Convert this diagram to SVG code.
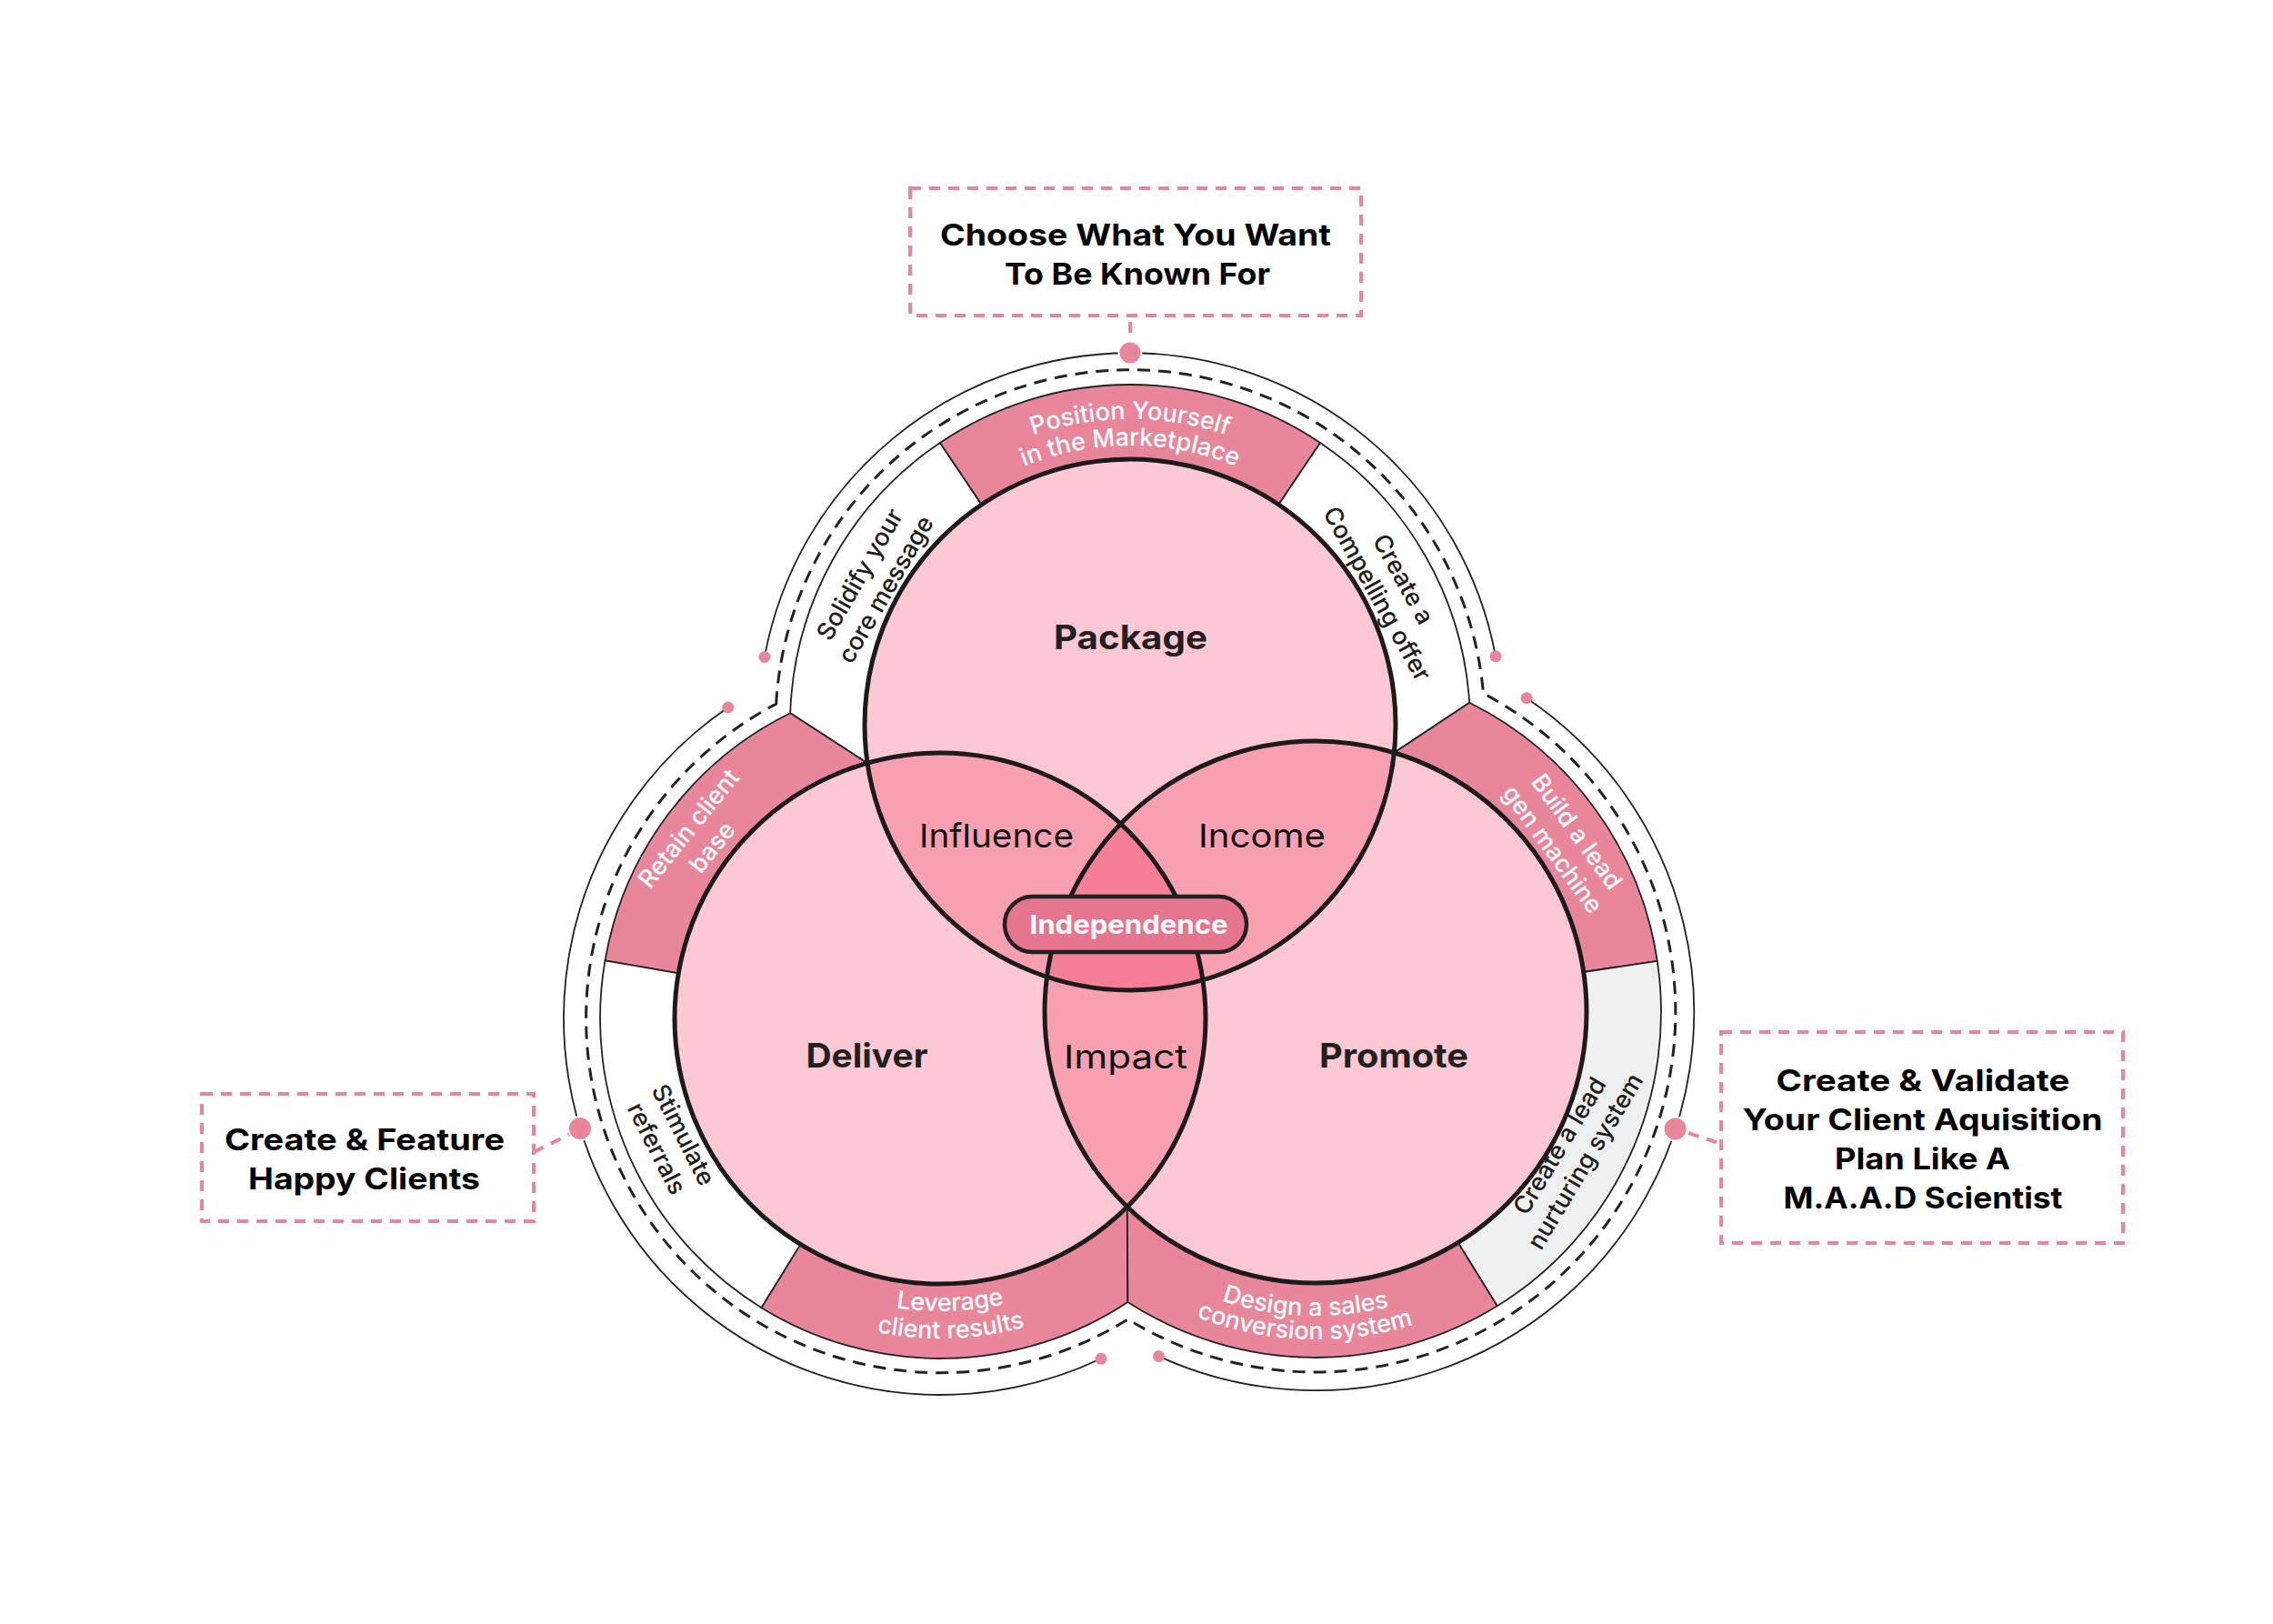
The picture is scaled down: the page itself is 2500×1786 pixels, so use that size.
<svg xmlns="http://www.w3.org/2000/svg" xmlns:xlink="http://www.w3.org/1999/xlink" width="2500" height="1786" viewBox="0 0 2500 1786">
<style>
.seg{stroke:#222;stroke-width:1.8;stroke-linejoin:round}
.pink{fill:#e8879b}
.white{fill:#fff}
.gray{fill:#eff1f0}
.circ{fill:none;stroke:#1c1a1b;stroke-width:5}
.light{fill:#fbc8d3}
.double{fill:#f7a0b1}
.triple{fill:#f57f96}
.dline{fill:none;stroke:#222;stroke-width:3;stroke-dasharray:14 9}
.outer{fill:none;stroke:#222;stroke-width:1.8}
.dot{fill:#e8879b}
.bigdot{fill:#e8879b;stroke:#fff;stroke-width:2}
.box{fill:#fff;stroke:#e8879b;stroke-width:4;stroke-dasharray:12 9}
.conn{fill:none;stroke:#e8879b;stroke-width:4;stroke-dasharray:12 9}
text{font-family:Inter,"Liberation Sans",sans-serif}
.bt{font-weight:700;font-size:33px;fill:#000;text-anchor:middle}
.lb{font-weight:700;font-size:37px;fill:#231f20;text-anchor:middle}
.lr{font-weight:400;font-size:36px;fill:#111;text-anchor:middle}
.ring{font-weight:500;font-size:27px;text-anchor:middle}
.rw{fill:#fff}
.rd{fill:#1d1d1d}
.pill{fill:#e6768f;stroke:#231f20;stroke-width:4.5}
.pt{font-weight:700;font-size:29px;fill:#fff;text-anchor:middle}
</style>
<defs>
<clipPath id="clipP"><circle cx="1243" cy="797" r="292"/></clipPath>
<clipPath id="clipD"><circle cx="1034" cy="1120" r="292"/></clipPath>
<clipPath id="clipR"><circle cx="1447" cy="1113" r="298"/></clipPath>
<path id="pPos1" d="M 952.0 629 A 336 336 0 0 1 1534.0 629"/>
<path id="pPos2" d="M 977.1 643.5 A 307 307 0 0 1 1508.9 643.5"/>
<path id="pLev1" d="M 760.9 1290.6 A 322 322 0 0 0 1318.3 1271.2"/>
<path id="pLev2" d="M 735.5 1306.5 A 352 352 0 0 0 1344.8 1285.3"/>
<path id="pDes1" d="M 1152.1 1269.8 A 334 334 0 0 0 1730.3 1290.0"/>
<path id="pDes2" d="M 1129.1 1282.0 A 360 360 0 0 0 1752.3 1303.8"/>
</defs>
<rect width="2500" height="1786" fill="#fff"/>

<g id="rings">
  <g id="seg-solidify">
    <path class="seg white" d="M 954.0 839.2 A 292 292 0 0 1 1079.7 554.9 L 1033.9 486.9 A 374 374 0 0 0 869.2 784.3 Z"/>
    <text class="ring rd" transform="translate(961.4 640.9) rotate(-60)"><tspan x="0" y="-9">Solidify your</tspan><tspan x="0" y="24">core message</tspan></text>
  </g>
  <g id="seg-position">
    <path class="seg pink" d="M 1079.7 554.9 A 292 292 0 0 1 1406.3 554.9 L 1452.1 486.9 A 374 374 0 0 0 1033.9 486.9 Z"/>
    <text class="ring rw"><textPath href="#pPos1" startOffset="50%">Position Yourself</textPath></text>
    <text class="ring rw"><textPath href="#pPos2" startOffset="50%">in the Marketplace</textPath></text>
  </g>
  <g id="seg-compelling">
    <path class="seg white" d="M 1406.3 554.9 A 292 292 0 0 1 1533.4 827.8 L 1616.2 772.75 A 374 374 0 0 0 1452.1 486.9 Z"/>
    <text class="ring rd" transform="translate(1527.5 645.8) rotate(61)"><tspan x="0" y="-9">Create a</tspan><tspan x="0" y="24">Compelling offer</tspan></text>
  </g>
  <g id="seg-retain">
    <path class="seg pink" d="M 954.0 839.2 A 292 292 0 0 0 746.3 1070.3 L 665.5 1056.3 A 374 374 0 0 1 869.2 784.3 Z"/>
    <text class="ring rw" transform="translate(771.7 922.5) rotate(-51)"><tspan x="0" y="-9">Retain client</tspan><tspan x="0" y="24">base</tspan></text>
  </g>
  <g id="seg-stimulate">
    <path class="seg white" d="M 746.3 1070.3 A 292 292 0 0 0 880.6 1368.4 L 837.5 1438.2 A 374 374 0 0 1 665.5 1056.3 Z"/>
    <text class="ring rd" transform="translate(735.4 1256.4) rotate(63)"><tspan x="0" y="-9">Stimulate</tspan><tspan x="0" y="24">referrals</tspan></text>
  </g>
  <g id="seg-leverage">
    <path class="seg pink" d="M 880.6 1368.4 A 292 292 0 0 0 1239.8 1327.2 L 1240.4 1431.9 A 374 374 0 0 1 837.5 1438.2 Z"/>
    <text class="ring rw"><textPath href="#pLev1" startOffset="50%">Leverage</textPath></text>
    <text class="ring rw"><textPath href="#pLev2" startOffset="50%">client results</textPath></text>
  </g>
  <g id="seg-build">
    <path class="seg pink" d="M 1533.4 827.8 A 298 298 0 0 1 1741.7 1069.0 L 1822.8 1056.8 A 380 380 0 0 0 1616.2 772.75 Z"/>
    <text class="ring rw" transform="translate(1719.6 925.4) rotate(54)"><tspan x="0" y="-9">Build a lead</tspan><tspan x="0" y="24">gen machine</tspan></text>
  </g>
  <g id="seg-nurture">
    <path class="seg gray" d="M 1741.7 1069.0 A 298 298 0 0 1 1603.6 1366.5 L 1646.7 1436.3 A 380 380 0 0 0 1822.8 1056.8 Z"/>
    <text class="ring rd" transform="translate(1731 1269.6) rotate(-59)"><tspan x="0" y="-9">Create a lead</tspan><tspan x="0" y="24">nurturing system</tspan></text>
  </g>
  <g id="seg-design">
    <path class="seg pink" d="M 1603.6 1366.5 A 298 298 0 0 1 1239.8 1327.2 L 1240.4 1431.9 A 380 380 0 0 0 1646.7 1436.3 Z"/>
    <text class="ring rw"><textPath href="#pDes1" startOffset="50%">Design a sales</textPath></text>
    <text class="ring rw"><textPath href="#pDes2" startOffset="50%">conversion system</textPath></text>
  </g>
</g>

<g id="venn-fills">
  <circle class="light" cx="1243" cy="797" r="292"/>
  <circle class="light" cx="1034" cy="1120" r="292"/>
  <circle class="light" cx="1447" cy="1113" r="298"/>
  <circle class="double" cx="1034" cy="1120" r="292" clip-path="url(#clipP)"/>
  <circle class="double" cx="1447" cy="1113" r="298" clip-path="url(#clipP)"/>
  <circle class="double" cx="1447" cy="1113" r="298" clip-path="url(#clipD)"/>
  <g clip-path="url(#clipP)"><circle class="triple" cx="1447" cy="1113" r="298" clip-path="url(#clipD)"/></g>
</g>

<g id="node-package">
  <circle class="circ" cx="1243" cy="797" r="292"/>
  <text class="lb" x="1243.5" y="714" textLength="169" lengthAdjust="spacingAndGlyphs">Package</text>
</g>
<g id="node-deliver">
  <circle class="circ" cx="1034" cy="1120" r="292"/>
  <text class="lb" x="953.5" y="1174" textLength="134" lengthAdjust="spacingAndGlyphs">Deliver</text>
</g>
<g id="node-promote">
  <circle class="circ" cx="1447" cy="1113" r="298"/>
  <text class="lb" x="1533" y="1174" textLength="164" lengthAdjust="spacingAndGlyphs">Promote</text>
</g>
<g id="node-influence">
  <text class="lr" x="1096" y="932" textLength="170" lengthAdjust="spacingAndGlyphs">Influence</text>
</g>
<g id="node-income">
  <text class="lr" x="1388" y="932" textLength="140" lengthAdjust="spacingAndGlyphs">Income</text>
</g>
<g id="node-impact">
  <text class="lr" x="1238" y="1175" textLength="136" lengthAdjust="spacingAndGlyphs">Impact</text>
</g>
<g id="node-independence">
  <rect class="pill" x="1105" y="986" width="266" height="61" rx="30.5"/>
  <text class="pt" x="1241.5" y="1027" textLength="218" lengthAdjust="spacingAndGlyphs">Independence</text>
</g>

<g id="connectors">
  <path class="dline" d="M 853.65 774.2 A 390 390 0 0 1 1631.5 762.6 A 396 396 0 1 1 1240.5 1450.9 A 390 390 0 1 1 853.65 774.2 Z"/>
  <path class="outer" d="M 840.9 722.5 A 409 409 0 0 1 1645.0 721.8"/>
  <path class="outer" d="M 1210.9 1494.3 A 414 414 0 0 1 800.7 778.0"/>
  <path class="outer" d="M 1679.0 767.7 A 416 416 0 0 1 1274.5 1491.6"/>
  <circle class="dot" cx="840.9" cy="722.5" r="6.5"/>
  <circle class="dot" cx="1645.0" cy="721.8" r="6.5"/>
  <circle class="dot" cx="1210.9" cy="1494.3" r="6.5"/>
  <circle class="dot" cx="800.7" cy="778.0" r="6.5"/>
  <circle class="dot" cx="1679.0" cy="767.7" r="6.5"/>
  <circle class="dot" cx="1274.5" cy="1491.6" r="6.5"/>
  <line class="conn" x1="1243" y1="354" x2="1243" y2="366"/>
  <line class="conn" x1="587" y1="1267" x2="627" y2="1247"/>
  <line class="conn" x1="1857" y1="1246" x2="1893" y2="1258"/>
  <circle class="bigdot" cx="1243" cy="388" r="12.5"/>
  <circle class="bigdot" cx="638" cy="1241" r="13"/>
  <circle class="bigdot" cx="1842.6" cy="1241.6" r="13"/>
</g>

<g id="box-known">
  <rect class="box" x="1001" y="207" width="496" height="140"/>
  <text class="bt" x="1249" y="270" textLength="430" lengthAdjust="spacingAndGlyphs">Choose What You Want</text>
  <text class="bt" x="1251" y="313" textLength="292" lengthAdjust="spacingAndGlyphs">To Be Known For</text>
</g>
<g id="box-happy">
  <rect class="box" x="222" y="1203" width="365" height="140"/>
  <text class="bt" x="401" y="1265" textLength="308" lengthAdjust="spacingAndGlyphs">Create &amp; Feature</text>
  <text class="bt" x="400.5" y="1308" textLength="255" lengthAdjust="spacingAndGlyphs">Happy Clients</text>
</g>
<g id="box-validate">
  <rect class="box" x="1893" y="1135" width="442" height="232"/>
  <text class="bt" x="2115" y="1200" textLength="323" lengthAdjust="spacingAndGlyphs">Create &amp; Validate</text>
  <text class="bt" x="2114.5" y="1243" textLength="396" lengthAdjust="spacingAndGlyphs">Your Client Aquisition</text>
  <text class="bt" x="2114.5" y="1286" textLength="193" lengthAdjust="spacingAndGlyphs">Plan Like A</text>
  <text class="bt" x="2115" y="1329" textLength="307" lengthAdjust="spacingAndGlyphs">M.A.A.D Scientist</text>
</g>
</svg>
